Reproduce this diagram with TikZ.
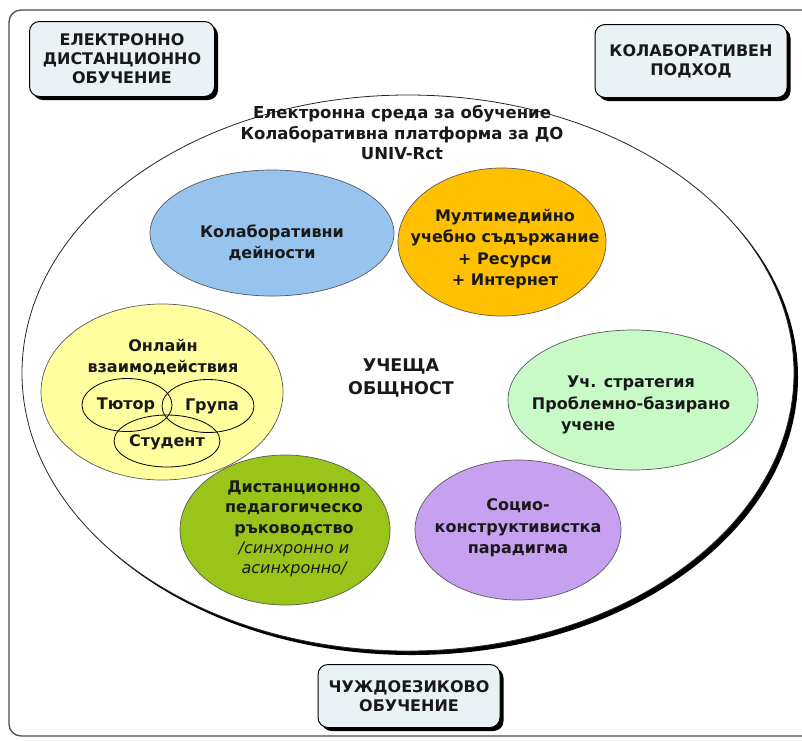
\documentclass[tikz,border=0pt]{standalone}
\usepackage{fontspec}
\setmainfont{DejaVu Sans}
\usetikzlibrary{shapes.geometric,shadows}
\definecolor{cblue}{RGB}{150,196,238}
\definecolor{corange}{RGB}{255,192,0}
\definecolor{cyellow}{RGB}{255,255,160}
\definecolor{clgreen}{RGB}{200,250,200}
\definecolor{colive}{RGB}{153,196,25}
\definecolor{cpurple}{RGB}{200,160,240}
\definecolor{boxfill}{RGB}{235,242,246}
\definecolor{txt}{RGB}{25,25,25}
\begin{document}
\begin{tikzpicture}[x=1pt,y=-1pt,
  bub/.style={ellipse, draw=black!65, line width=0.7pt, inner sep=0pt},
  tagbox/.style={rectangle, rounded corners=10pt, draw=black, line width=1pt, fill=boxfill,
    align=center, inner sep=0pt, font=\fontsize{16}{19}\selectfont\bfseries, text=txt,
    drop shadow={shadow xshift=3.5pt, shadow yshift=-3.5pt, opacity=1, fill=black}},
  venn/.style={ellipse, draw=black, line width=0.8pt, inner sep=0pt},
  lbl/.style={align=center, inner sep=0pt, font=\fontsize{16}{21.5}\selectfont\bfseries, text=txt}]
\useasboundingbox (0,0) rectangle (802,740);
% outer frame
\draw[black!70, line width=1.3pt, rounded corners=12pt] (9,10) rectangle (830,736);
% big ellipse
\fill[black] (412,377) ellipse[x radius=386, y radius=278];
\node[ellipse, draw=black!85, line width=0.8pt, fill=white, minimum width=772, minimum height=556, inner sep=0pt] (env) at (408,373) {};
% title text
\node[lbl, font=\fontsize{16.5}{20.5}\selectfont\bfseries] (title) at (402,133) {Електронна среда за обучение\\Колаборативна платформа за ДО\\UNIV-Rct};
% boxes
\node[tagbox, minimum width=185, minimum height=75] (b1) at (122,59) {ЕЛЕКТРОННО\\ДИСТАНЦИОННО\\ОБУЧЕНИЕ};
\node[tagbox, minimum width=192, minimum height=73] (b2) at (691,61) {КОЛАБОРАТИВЕН\\ПОДХОД};
\node[tagbox, minimum width=182, minimum height=63] (b3) at (409,696) {ЧУЖДОЕЗИКОВО\\ОБУЧЕНИЕ};
% inner ellipses
\node[bub, fill=cblue, minimum width=244, minimum height=126] (collab) at (272,233) {};
\node[lbl] (collabt) at (272,243) {Колаборативни\\дейности};
\node[bub, fill=corange, minimum width=208, minimum height=148] (media) at (502,242) {};
\node[lbl] (mediat) at (505,249) {Мултимедийно\\учебно съдържание\\+ Ресурси\\+ Интернет};
\node[bub, fill=cyellow, minimum width=242, minimum height=176] (online) at (162,392) {};
\node[lbl] (onlinet) at (163,357) {Онлайн\\взаимодействия};
\node[venn, minimum width=90, minimum height=53] (tutor) at (127,405) {};
\node[venn, minimum width=92, minimum height=53] (group) at (208,406) {};
\node[venn, minimum width=106, minimum height=52] (student) at (167,441) {};
\node[lbl] (tutort) at (126,405) {Тютор};
\node[lbl] (groupt) at (212,406) {Група};
\node[lbl] (studentt) at (167,442) {Студент};
\node[bub, fill=clgreen, minimum width=250, minimum height=140] (strat) at (633,400) {};
\node[lbl] (stratt) at (631,405) {Уч. стратегия\\Проблемно-базирано\\\makebox[222pt][l]{\hspace*{41pt}учене}};
\node[bub, fill=colive, minimum width=210, minimum height=150] (ped) at (285,530) {};
\node[lbl, font=\fontsize{16}{20.3}\selectfont\bfseries] (pedt) at (294,529) {Дистанционно\\педагогическо\\ръководство\\{\mdseries\itshape /синхронно и}\\{\mdseries\itshape асинхронно/}};
\node[bub, fill=cpurple, minimum width=206, minimum height=140] (socio) at (518,530) {};
\node[lbl] (sociot) at (518,528) {Социо-\\конструктивистка\\парадигма};
% centre
\node[lbl, font=\fontsize{17.5}{23}\selectfont\bfseries] (core) at (401,378) {УЧЕЩА\\ОБЩНОСТ};
\end{tikzpicture}
\end{document}
